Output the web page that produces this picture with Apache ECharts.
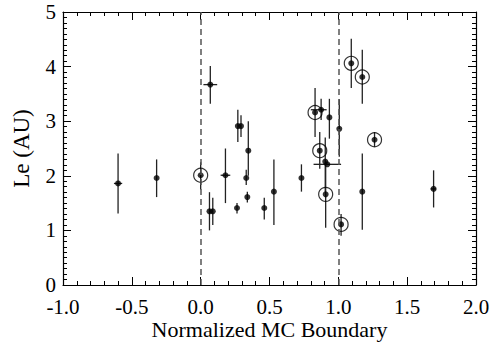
<!DOCTYPE html>
<html>
<head>
<meta charset="utf-8">
<script src="https://cdn.jsdelivr.net/npm/echarts@6/dist/echarts.min.js"></script>
<style>
  html, body { margin: 0; padding: 0; background: #fff; font-family: 'Liberation Serif', serif; }
  #chart { width: 492px; height: 343px; }
</style>
</head>
<body>
<div id="chart"></div>
<script>
var xs   = [-0.60, -0.32, 0.00, 0.07, 0.064, 0.088, 0.18, 0.264, 0.27, 0.293, 0.346, 0.331, 0.339, 0.462, 0.532,
            0.732, 0.831, 0.875, 0.935, 1.007, 0.865, 0.905, 0.92, 0.908, 1.02, 1.094, 1.174, 1.263, 1.174, 1.692];
var ys   = [1.86, 1.96, 2.01, 3.67, 1.35, 1.35, 2.01, 1.41, 2.91, 2.91, 2.46, 1.96, 1.61, 1.41, 1.71,
            1.96, 3.16, 3.21, 3.07, 2.86, 2.46, 2.26, 2.21, 1.66, 1.11, 4.06, 3.81, 2.66, 1.71, 1.76];
var yLo  = [1.31, 1.61, 1.75, 3.32, 1.00, 1.10, 1.50, 1.31, 2.62, 2.71, 2.00, 1.83, 1.51, 1.20, 1.10,
            1.71, 2.71, 3.02, 2.68, 2.35, 2.13, 1.70, null, 1.05, 0.90, 3.61, 3.32, 2.53, 1.01, 1.42];
var yHi  = [2.41, 2.30, 2.25, 4.01, 1.70, 1.60, 2.50, 1.50, 3.21, 3.11, 3.00, 2.11, 1.71, 1.60, 2.30,
            2.21, 3.61, 3.41, 3.41, 3.40, 2.80, 2.70, null, 2.28, 1.30, 4.51, 4.31, 2.80, 2.41, 2.10];
var xLo  = [-0.63, null, null, 0.02, null, null, 0.145, null, null, null, null, null, null, null, null,
            null, null, 0.80, null, null, null, null, 0.82, null, null, null, null, null, null, 1.67];
var xHi  = [-0.57, null, null, 0.12, null, null, 0.215, null, null, null, null, null, null, null, null,
            null, null, 0.915, null, null, null, null, 1.02, null, null, null, null, null, null, 1.71];
var circled = [0, 0, 1, 0, 0, 0, 0, 0, 0, 0, 0, 0, 0, 0, 0,
               0, 1, 0, 0, 0, 1, 0, 0, 1, 1, 1, 1, 1, 0, 0];
var boundaries = [0, 1];

var font = "'Liberation Serif', serif";
var pts = xs.map(function(x, i) { return [x, ys[i]]; });
var rings = pts.filter(function(p, i) { return circled[i]; });

function errBars(params, api) {
  var i = params.dataIndex;
  var kids = [];
  var st = { stroke: '#222', lineWidth: 1.3 };
  if (yLo[i] != null) {
    var a = api.coord([xs[i], yLo[i]]), b = api.coord([xs[i], yHi[i]]);
    kids.push({ type: 'line', shape: { x1: a[0], y1: a[1], x2: b[0], y2: b[1] }, style: st });
  }
  if (xLo[i] != null) {
    var c = api.coord([xLo[i], ys[i]]), d = api.coord([xHi[i], ys[i]]);
    kids.push({ type: 'line', shape: { x1: c[0], y1: c[1], x2: d[0], y2: d[1] }, style: st });
  }
  return { type: 'group', children: kids };
}

function frameAxis(extra, minorSplit) {
  return Object.assign({
    type: 'value',
    axisLine: { show: true, onZero: false, lineStyle: { color: '#000', width: 1.2 } },
    axisTick: { show: true, inside: true, length: 8, lineStyle: { color: '#000' } },
    minorTick: { show: true, splitNumber: minorSplit, length: 4, lineStyle: { color: '#000' } },
    splitLine: { show: false },
    axisLabel: { show: false }
  }, extra);
}

function labelStyle(size, more) {
  return Object.assign({ color: '#000', fontFamily: font, fontSize: size, fontWeight: 'normal' }, more || {});
}

var chart = echarts.init(document.getElementById('chart'), null, { renderer: 'svg' });
chart.setOption({
  animation: false,
  backgroundColor: '#fff',
  textStyle: { fontFamily: font },
  grid: { left: 63, right: 16, top: 12, bottom: 58, containLabel: false, outerBoundsMode: 'none' },
  xAxis: [
    frameAxis({
      position: 'bottom', min: -1, max: 2, interval: 0.5,
      axisLabel: labelStyle(21, { margin: 11, formatter: function(v) { return v.toFixed(1); } }),
      name: 'Normalized MC Boundary', nameLocation: 'middle', nameGap: 33, nameMoveOverlap: false,
      nameTextStyle: labelStyle(22)
    }, 5),
    frameAxis({ position: 'top', min: -1, max: 2, interval: 0.5 }, 5)
  ],
  yAxis: [
    frameAxis({
      position: 'left', min: 0, max: 5, interval: 1,
      axisLabel: labelStyle(21, { margin: 7 }),
      name: 'Le (AU)', nameLocation: 'middle', nameGap: 30, nameMoveOverlap: false,
      nameTextStyle: labelStyle(23)
    }, 10),
    frameAxis({ position: 'right', min: 0, max: 5, interval: 1 }, 10)
  ],
  series: [
    {
      type: 'custom', renderItem: errBars, data: pts, z: 2, silent: true,
      markLine: {
        silent: true, symbol: 'none', label: { show: false },
        lineStyle: { color: '#555', type: [6, 4], width: 1.5 },
        data: boundaries.map(function(b) { return { xAxis: b }; })
      }
    },
    {
      type: 'scatter', data: pts, symbol: 'circle', symbolSize: 6, z: 3,
      itemStyle: { color: '#000' }
    },
    {
      type: 'scatter', data: rings, symbol: 'circle', symbolSize: 14, z: 3,
      itemStyle: { color: 'rgba(0,0,0,0)', borderColor: '#000', borderWidth: 1.2 }
    }
  ]
});
</script>
</body>
</html>
